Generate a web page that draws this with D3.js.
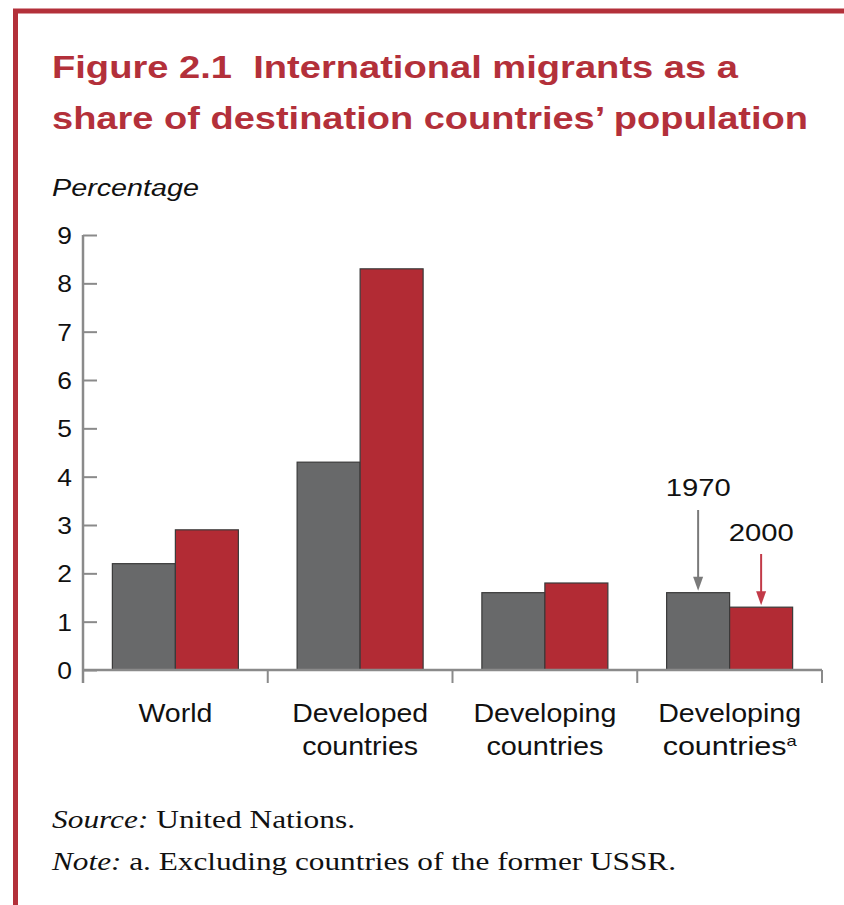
<!DOCTYPE html>
<html>
<head>
<meta charset="utf-8">
<script src="https://cdn.jsdelivr.net/npm/d3@7"></script>
<style>
body{margin:0;background:#fff;}
svg{display:block;}
</style>
</head>
<body>
<svg id="chart" width="844" height="905"></svg>
<script>
const categories = [["World"], ["Developed", "countries"], ["Developing", "countries"], ["Developing", "countries"]];
const categoryFootnote = ["", "", "", "a"];
const years = ["1970", "2000"];
const values1970 = [2.2, 4.3, 1.6, 1.6];
const values2000 = [2.9, 8.3, 1.8, 1.3];
const yTicks = [0, 1, 2, 3, 4, 5, 6, 7, 8, 9];

const RED = "#b22b34", GRAY = "#68696a", TITLE = "#b3303a";
const svg = d3.select("#chart");

// frame
svg.append("rect").attr("x", 15.5).attr("y", 11).attr("width", 900).attr("height", 897)
  .attr("fill", "none").attr("stroke", TITLE).attr("stroke-width", 5);

// title
const titleLines = [
  {t: "Figure 2.1\u00a0\u00a0International migrants as a", y: 78, w: 686},
  {t: "share of destination countries\u2019 population", y: 129, w: 756}
];
titleLines.forEach(l => {
  svg.append("text").attr("x", 52).attr("y", l.y).text(l.t)
    .attr("font-family", "Liberation Sans, Arial, sans-serif").attr("font-weight", "bold")
    .attr("font-size", 32).attr("fill", TITLE)
    .attr("textLength", l.w).attr("lengthAdjust", "spacingAndGlyphs");
});
svg.append("text").attr("x", 52).attr("y", 196).text("Percentage")
  .attr("font-family", "Liberation Sans, Arial, sans-serif").attr("font-style", "italic")
  .attr("font-size", 23).attr("fill", "#111")
  .attr("textLength", 147).attr("lengthAdjust", "spacingAndGlyphs");

const x0 = 83, x1 = 822, yBase = 670, yTop = 235;
const x = d3.scaleBand().domain(d3.range(categories.length)).range([x0, x1]).paddingInner(0).paddingOuter(0);
const y = d3.scaleLinear().domain([0, 9]).range([yBase, yTop]);
const barW = 63;
const xs = d3.scaleBand().domain(years).range([0, barW * 2]);

const AX = "#8a8a8a";
// y axis
const yAxis = d3.axisRight(y).tickValues(yTicks).tickSize(14).tickFormat("");
const gy = svg.append("g").attr("transform", `translate(${x0},0)`).call(yAxis);
gy.select(".domain").remove();
gy.selectAll(".tick line").attr("stroke", AX).attr("stroke-width", 2);
svg.append("line").attr("x1", x0).attr("x2", x0).attr("y1", yTop).attr("y2", yBase + 13)
  .attr("stroke", AX).attr("stroke-width", 2.5);
yTicks.forEach(v => {
  svg.append("text").attr("x", 72).attr("y", y(v) + 9).attr("text-anchor", "end").text(v)
    .attr("font-family", "Liberation Sans, Arial, sans-serif").attr("font-size", 24).attr("fill", "#111")
    .attr("transform", `translate(72,0) scale(1.1,1) translate(-72,0)`);
});

// bars
const g = svg.append("g");
categories.forEach((c, i) => {
  const left = x(i) + (x.bandwidth() - barW * 2) / 2;
  [[years[0], values1970[i], GRAY], [years[1], values2000[i], RED]].forEach(([yr, v, col]) => {
    g.append("rect").attr("x", left + xs(yr)).attr("y", y(v))
      .attr("width", xs.bandwidth()).attr("height", yBase - y(v))
      .attr("fill", col).attr("stroke", "#3a3a3a").attr("stroke-width", 1.2);
  });
});

// x axis
svg.append("line").attr("x1", x0).attr("x2", x1).attr("y1", yBase).attr("y2", yBase)
  .attr("stroke", AX).attr("stroke-width", 2.5);
const bounds = categories.map((c, i) => x(i) + x.bandwidth());
bounds.forEach(b => {
  svg.append("line").attr("x1", b).attr("x2", b).attr("y1", yBase).attr("y2", yBase + 13)
    .attr("stroke", AX).attr("stroke-width", 2);
});

// category labels
const labW = [[74], [136, 116], [143, 117], [143, 134]];
categories.forEach((c, i) => {
  const cx = x(i) + x.bandwidth() / 2;
  c.forEach((line, j) => {
    const t = svg.append("text").attr("x", cx).attr("y", 722 + j * 33).attr("text-anchor", "middle")
      .attr("font-family", "Liberation Sans, Arial, sans-serif").attr("font-size", 25).attr("fill", "#111")
      .attr("textLength", labW[i][j]).attr("lengthAdjust", "spacingAndGlyphs");
    t.append("tspan").text(line);
    if (j === c.length - 1 && categoryFootnote[i]) {
      t.append("tspan").text(categoryFootnote[i]).attr("font-size", 15).attr("dy", -9);
    }
  });
});

// annotations
const last = categories.length - 1;
const leftL = x(last) + (x.bandwidth() - barW * 2) / 2;
const annot = [
  {yr: years[0], v: values1970[last], col: "#7a7a7a", ty: 496, ay1: 510},
  {yr: years[1], v: values2000[last], col: "#c23a48", ty: 541, ay1: 554}
];
annot.forEach(a => {
  const cx = leftL + xs(a.yr) + xs.bandwidth() / 2;
  svg.append("text").attr("x", cx).attr("y", a.ty).attr("text-anchor", "middle").text(a.yr)
    .attr("font-family", "Liberation Sans, Arial, sans-serif").attr("font-size", 24).attr("fill", "#111")
    .attr("textLength", 65).attr("lengthAdjust", "spacingAndGlyphs");
  const tip = y(a.v) - 2;
  svg.append("line").attr("x1", cx).attr("x2", cx).attr("y1", a.ay1).attr("y2", tip - 8)
    .attr("stroke", a.col).attr("stroke-width", 2);
  svg.append("path").attr("d", `M${cx - 5},${tip - 14} L${cx + 5},${tip - 14} L${cx},${tip} Z`)
    .attr("fill", a.col);
});

// source & note
const src = svg.append("text").attr("x", 52).attr("y", 828)
  .attr("font-family", "Liberation Serif, Times New Roman, serif").attr("font-size", 25).attr("fill", "#111")
  .attr("textLength", 303).attr("lengthAdjust", "spacingAndGlyphs");
src.append("tspan").attr("font-style", "italic").text("Source:");
src.append("tspan").text(" United Nations.");
const note = svg.append("text").attr("x", 52).attr("y", 870)
  .attr("font-family", "Liberation Serif, Times New Roman, serif").attr("font-size", 25).attr("fill", "#111")
  .attr("textLength", 624).attr("lengthAdjust", "spacingAndGlyphs");
note.append("tspan").attr("font-style", "italic").text("Note:");
note.append("tspan").text(" a. Excluding countries of the former USSR.");
</script>
</body>
</html>
